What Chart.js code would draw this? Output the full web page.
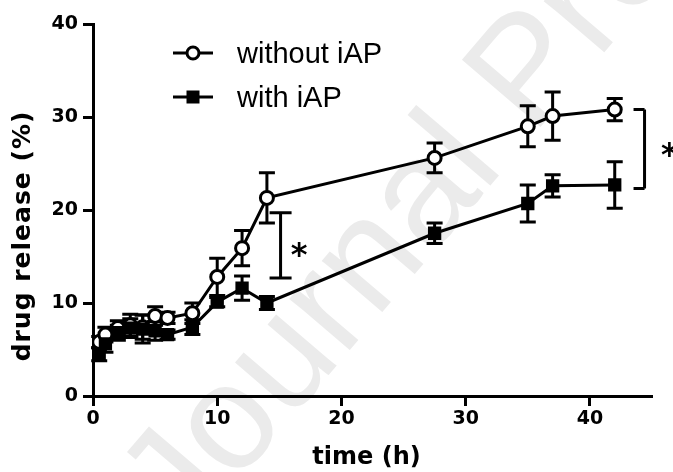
<!DOCTYPE html>
<html>
<head>
<meta charset="utf-8">
<script src="https://cdn.jsdelivr.net/npm/chart.js@4.4.1/dist/chart.umd.min.js"></script>
<style>
  html, body { margin: 0; padding: 0; background: #fff; }
  #wrap { width: 673px; height: 472px; }
</style>
</head>
<body>
<div id="wrap"><canvas id="chart"></canvas></div>
<script>
// sampling times (h)
var timeH = [0.5, 1, 2, 3, 4, 5, 6, 8, 10, 12, 14, 27.5, 35, 37, 42];
// drug release (%) and SD
var withoutIAP = [5.8, 6.6, 7.3, 7.6, 7.4, 8.6, 8.4, 8.9, 12.8, 15.9, 21.3, 25.6, 29.0, 30.1, 30.8];
var withoutIAPsd = [0.6, 0.8, 0.8, 1.2, 1.3, 1.0, 0.6, 1.1, 2.0, 1.9, 2.7, 1.6, 2.2, 2.6, 1.2];
var withIAP = [4.5, 5.6, 6.8, 7.3, 7.2, 7.0, 6.6, 7.4, 10.1, 11.6, 10.0, 17.5, 20.7, 22.6, 22.7];
var withIAPsd = [0.7, 0.9, 0.8, 1.0, 1.5, 1.0, 0.5, 0.8, 0.5, 1.3, 0.7, 1.1, 2.0, 1.2, 2.5];

var seriesNames = ["without iAP", "with iAP"];
var xTicks = [0, 10, 20, 30, 40];
var yTicks = [0, 10, 20, 30, 40];
var xTitle = "time (h)";
var yTitle = "drug release (%)";

// significance brackets: x position, y range, star position
var brackets = [
    { x: 15.1, from: 12.7, to: 19.7, both: true, starX: 16.6, starY: 15.6 },
    { x: 44.4, from: 22.3, to: 30.8, both: false, starX: 46.4, starY: 26.4 }
];

function toPoints(ys) {
    return timeH.map(function (t, i) { return { x: t, y: ys[i] }; });
}

var sdList = [withoutIAPsd, withIAPsd];

var errorBars = {
    id: 'errorBars',
    beforeDatasetsDraw: function (chart) {
        var ctx = chart.ctx;
        var xs = chart.scales.x, ys = chart.scales.y;
        ctx.save();
        ctx.strokeStyle = '#000';
        ctx.lineWidth = 3;
        chart.data.datasets.forEach(function (ds, di) {
            var sd = sdList[di];
            ds.data.forEach(function (p, i) {
                var px = xs.getPixelForValue(p.x);
                var top = ys.getPixelForValue(p.y + sd[i]);
                var bot = ys.getPixelForValue(p.y - sd[i]);
                ctx.beginPath();
                ctx.moveTo(px, top); ctx.lineTo(px, bot);
                ctx.moveTo(px - 8, top); ctx.lineTo(px + 8, top);
                ctx.moveTo(px - 8, bot); ctx.lineTo(px + 8, bot);
                ctx.stroke();
            });
        });
        ctx.restore();
    }
};

var decorations = {
    id: 'decorations',
    beforeDraw: function (chart) {
        var ctx = chart.ctx;
        ctx.save();
        ctx.fillStyle = '#fff';
        ctx.fillRect(0, 0, chart.width, chart.height);
        // watermark
        ctx.translate(186, 542);
        ctx.rotate(-49.5 * Math.PI / 180);
        ctx.fillStyle = '#ebebeb';
        ctx.font = '150px "Liberation Sans", Arial, sans-serif';
        ctx.textBaseline = 'alphabetic';
        ctx.fillText('Journal Pre-proof', 0, 0);
        ctx.restore();
    },
    afterDraw: function (chart) {
        var ctx = chart.ctx;
        var xs = chart.scales.x, ys = chart.scales.y;
        var area = chart.chartArea;
        ctx.save();
        // axis titles
        ctx.fillStyle = '#000';
        ctx.font = 'bold 24px "DejaVu Sans", sans-serif';
        ctx.textAlign = 'center';
        ctx.textBaseline = 'middle';
        ctx.fillText(xTitle, (area.left + area.right) / 2 - 6, 458);
        ctx.save();
        ctx.translate(23, 236);
        ctx.rotate(-Math.PI / 2);
        ctx.letterSpacing = '1px';
        ctx.font = 'bold 25px "DejaVu Sans", sans-serif';
        ctx.fillText(yTitle, 0, 0);
        ctx.restore();

        // brackets
        ctx.strokeStyle = '#000';
        ctx.lineWidth = 3;
        brackets.forEach(function (b) {
            var px = xs.getPixelForValue(b.x);
            var top = ys.getPixelForValue(b.to);
            var bot = ys.getPixelForValue(b.from);
            var l = px - 11;
            var r = b.both ? px + 11 : px;
            ctx.beginPath();
            ctx.moveTo(px, top); ctx.lineTo(px, bot);
            ctx.moveTo(l, top); ctx.lineTo(r, top);
            ctx.moveTo(l, bot); ctx.lineTo(r, bot);
            ctx.stroke();
            ctx.font = 'bold 32px "DejaVu Sans", sans-serif';
            ctx.textAlign = 'center';
            ctx.textBaseline = 'middle';
            ctx.fillText('*', xs.getPixelForValue(b.starX), ys.getPixelForValue(b.starY) + 6);
        });

        // legend
        var rows = [53, 97];
        ctx.font = '29px "Liberation Sans", Arial, sans-serif';
        ctx.textAlign = 'left';
        ctx.textBaseline = 'alphabetic';
        rows.forEach(function (y, i) {
            ctx.beginPath();
            ctx.moveTo(173, y); ctx.lineTo(213, y);
            ctx.stroke();
            if (i === 0) {
                ctx.beginPath();
                ctx.arc(193, y, 6, 0, Math.PI * 2);
                ctx.fillStyle = '#fff';
                ctx.fill();
                ctx.stroke();
            } else {
                ctx.fillStyle = '#000';
                ctx.fillRect(186.5, y - 6.5, 13, 13);
            }
            ctx.fillStyle = '#000';
            ctx.fillText(seriesNames[i], 237, y + 10);
        });
        ctx.restore();
    }
};

var tickFont = { family: '"DejaVu Sans", sans-serif', size: 19, weight: 'bold' };

var grafico = new Chart(document.getElementById('chart'), {
    type: 'scatter',
    data: {
        datasets: [{
            label: seriesNames[0],
            data: toPoints(withoutIAP),
            showLine: true,
            borderColor: '#000',
            borderWidth: 3,
            pointStyle: 'circle',
            pointRadius: 6.5,
            pointBorderWidth: 3,
            pointBackgroundColor: '#fff',
            pointBorderColor: '#000',
            order: 2
        },
        {
            label: seriesNames[1],
            data: toPoints(withIAP),
            showLine: true,
            borderColor: '#000',
            borderWidth: 3,
            pointStyle: 'rect',
            pointRadius: 8,
            pointBorderWidth: 2,
            pointBackgroundColor: '#000',
            pointBorderColor: '#000',
            order: 1
        }]
    },
    options: {
        responsive: true,
        maintainAspectRatio: false,
        animation: false,
        layout: { padding: { left: 0, top: 24, right: 21, bottom: 0 } },
        plugins: {
            legend: { display: false },
            tooltip: { enabled: false }
        },
        scales: {
            x: {
                type: 'linear',
                min: 0,
                max: 45,
                afterBuildTicks: function (s) { s.ticks = xTicks.map(function (v) { return { value: v }; }); },
                afterFit: function (s) { s.height = 76; },
                ticks: { color: '#000', font: tickFont, padding: 2, maxRotation: 0 },
                grid: { drawOnChartArea: false, drawTicks: true, tickLength: 10, tickWidth: 3, tickColor: '#000' },
                border: { display: true, color: '#000', width: 3 }
            },
            y: {
                min: 0,
                max: 40,
                afterBuildTicks: function (s) { s.ticks = yTicks.map(function (v) { return { value: v }; }); },
                afterFit: function (s) { s.width = 93; },
                ticks: { color: '#000', font: tickFont, padding: 5 },
                grid: { drawOnChartArea: false, drawTicks: true, tickLength: 10, tickWidth: 3, tickColor: '#000' },
                border: { display: true, color: '#000', width: 3 }
            }
        }
    },
    plugins: [decorations, errorBars]
});
</script>
</body>
</html>
